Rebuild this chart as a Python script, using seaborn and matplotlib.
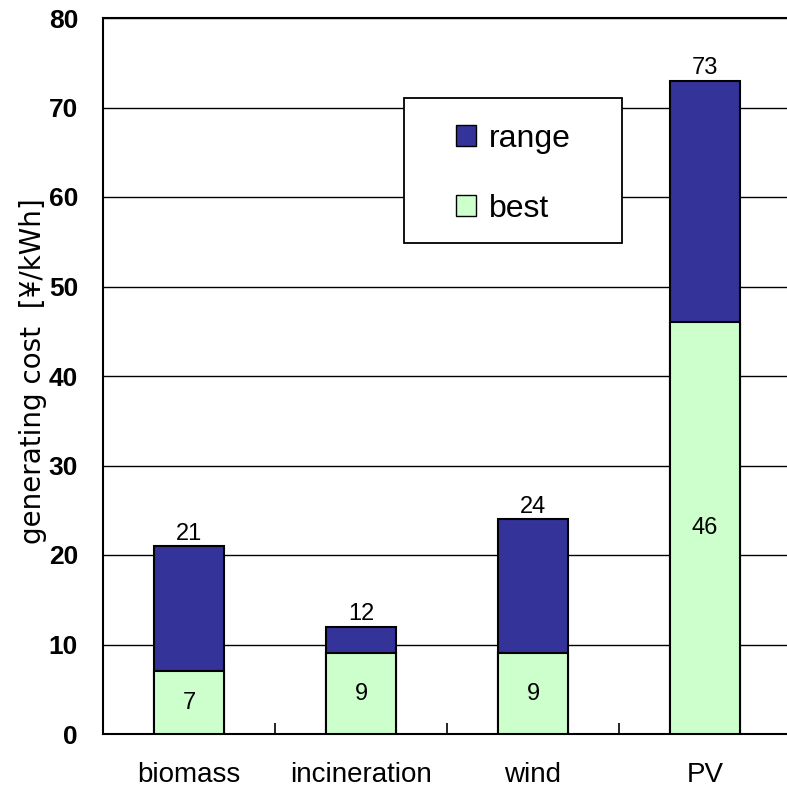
import matplotlib
matplotlib.use("Agg")
import matplotlib.pyplot as plt
import seaborn as sns
import pandas as pd
from matplotlib.patches import Patch, Rectangle

# Generating cost per source [yen/kWh]
categories = ["biomass", "incineration", "wind", "PV"]
best_cost = [7, 9, 9, 46]
upper_cost = [21, 12, 24, 73]
y_ticks = [0, 10, 20, 30, 40, 50, 60, 70, 80]

RANGE_COLOR = "#333399"
BEST_COLOR = "#CCFFCC"

sns.set_theme(style="white")
plt.rcParams["font.family"] = ["Liberation Sans", "DejaVu Sans"]
plt.rcParams["text.color"] = "black"
plt.rcParams["axes.labelcolor"] = "black"
plt.rcParams["xtick.color"] = "black"
plt.rcParams["ytick.color"] = "black"

df = pd.DataFrame({"source": categories, "best": best_cost, "upper": upper_cost})

W, H = 787, 789
fig = plt.figure(figsize=(W / 100, H / 100), dpi=100)
ax = fig.add_axes([103 / W, 1 - 734 / H, 688 / W, 716 / H])

# Full bar (range) first, best-case portion drawn over it
sns.barplot(data=df, x="source", y="upper", color=RANGE_COLOR, width=0.41,
            edgecolor="black", linewidth=1.5, saturation=1, ax=ax, zorder=3)
sns.barplot(data=df, x="source", y="best", color=BEST_COLOR, width=0.41,
            edgecolor="black", linewidth=1.5, saturation=1, ax=ax, zorder=4)

upper_bars = ax.containers[0]
best_bars = ax.containers[1]
ax.bar_label(upper_bars, labels=[str(v) for v in upper_cost], padding=1,
             fontsize=17, color="black", zorder=5)
ax.bar_label(best_bars, labels=[str(v) for v in best_cost], label_type="center",
             fontsize=17, color="black", zorder=5)

ax.set_ylim(0, 80)
ax.set_xlim(-0.5, 3.5)
ax.set_yticks(y_ticks)
ax.set_yticklabels([str(t) for t in y_ticks], fontsize=19, fontweight="bold")
ax.tick_params(axis="y", length=0, pad=18)
ax.yaxis.grid(True, color="black", linewidth=1.0, zorder=0)
ax.set_axisbelow(True)

# category labels; separators between categories drawn as inward ticks
ax.set_xticks(range(len(categories)))
ax.set_xticklabels(categories, fontsize=20)
ax.tick_params(axis="x", length=0, pad=20)
ax.set_xticks([0.5, 1.5, 2.5], minor=True)
ax.tick_params(axis="x", which="minor", direction="in", length=8, width=1.2,
               color="black", bottom=True)

ax.set_xlabel("")
ax.set_ylabel("generating cost  [¥/kWh]", fontsize=20, family="DejaVu Sans")
ax.yaxis.set_label_coords((47 - 103) / 688, (734 - 371) / 716)

for side in ["left", "bottom", "top"]:
    ax.spines[side].set_visible(True)
    ax.spines[side].set_color("black")
    ax.spines[side].set_linewidth(1.5)
ax.spines["right"].set_visible(False)

# legend frame
frame = Rectangle((404 / W, 1 - 243 / H), 218 / W, 145 / H,
                  transform=fig.transFigure, facecolor="white",
                  edgecolor="black", linewidth=1.3, zorder=8, clip_on=False)
ax.add_patch(frame)

handles = [
    Patch(facecolor=RANGE_COLOR, edgecolor="black", linewidth=1.0, label="range"),
    Patch(facecolor=BEST_COLOR, edgecolor="black", linewidth=1.0, label="best"),
]
leg = ax.legend(handles=handles, loc="upper left",
                bbox_to_anchor=(456 / W, 1 - 124 / H),
                bbox_transform=fig.transFigure,
                fontsize=23, frameon=False, borderpad=0,
                labelspacing=1.25, handlelength=0.62, handleheight=0.62,
                handletextpad=0.4, borderaxespad=0)
leg.set_zorder(10)

fig.savefig("out.png", dpi=100)
